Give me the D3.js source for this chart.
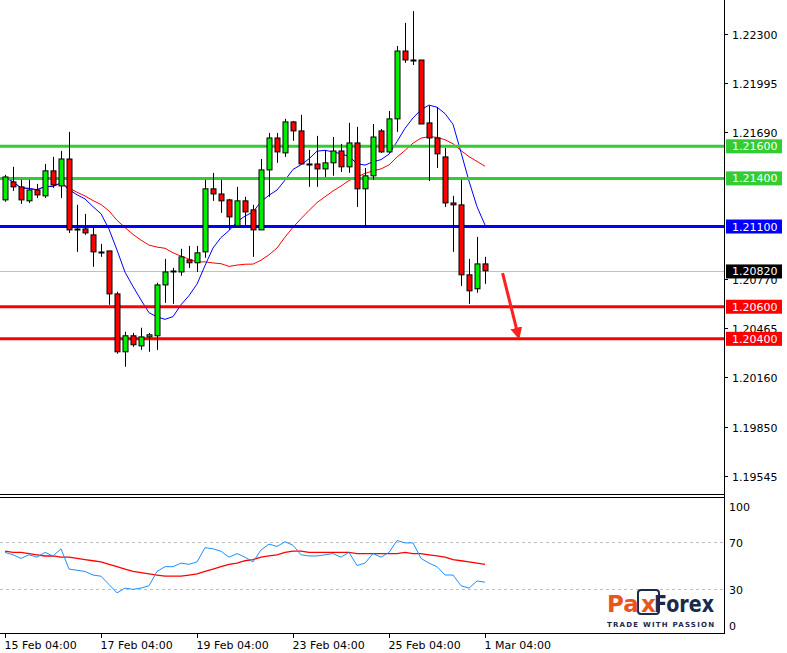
<!DOCTYPE html>
<html><head><meta charset="utf-8">
<script src="https://cdn.jsdelivr.net/npm/d3@7"></script>
<style>body{margin:0;background:#fff}svg{display:block}text{font-family:"DejaVu Sans",sans-serif;font-size:11px}</style>
</head><body><svg id="c" width="787" height="653"></svg>
<script>
// OHLC candles (4h)
const candles = [
[1.21266,1.21422,1.21254,1.21409],[1.21378,1.21472,1.21322,1.21347],[1.21347,1.21391,1.21241,1.21266],[1.21260,1.21391,1.21247,1.21328],
[1.21328,1.21366,1.21278,1.21297],[1.21291,1.21490,1.21278,1.21447],[1.21447,1.21534,1.21341,1.21359],[1.21353,1.21571,1.21278,1.21521],
[1.21521,1.21690,1.21060,1.21079],[1.21085,1.21235,1.20942,1.21085],[1.21085,1.21179,1.21048,1.21060],[1.21048,1.21092,1.20849,1.20942],
[1.20942,1.20992,1.20911,1.20942],[1.20948,1.20948,1.20612,1.20680],[1.20680,1.20693,1.20307,1.20319],[1.20319,1.20444,1.20226,1.20419],
[1.20419,1.20437,1.20350,1.20363],[1.20356,1.20469,1.20331,1.20412],[1.20412,1.20437,1.20319,1.20425],[1.20419,1.20749,1.20331,1.20736],
[1.20736,1.20898,1.20624,1.20817],[1.20824,1.20842,1.20618,1.20817],[1.20817,1.20961,1.20793,1.20911],[1.20892,1.20979,1.20842,1.20874],
[1.20874,1.20979,1.20817,1.20936],[1.20942,1.21391,1.20905,1.21335],[1.21335,1.21434,1.21260,1.21303],[1.21303,1.21391,1.21185,1.21260],
[1.21266,1.21272,1.21079,1.21160],[1.21104,1.21347,1.21104,1.21260],[1.21260,1.21285,1.21110,1.21191],[1.21204,1.21235,1.20911,1.21079],
[1.21079,1.21521,1.21079,1.21453],[1.21453,1.21683,1.21285,1.21652],[1.21652,1.21683,1.21497,1.21565],[1.21559,1.21771,1.21534,1.21752],
[1.21752,1.21758,1.21634,1.21696],[1.21696,1.21796,1.21490,1.21490],[1.21490,1.21577,1.21347,1.21490],[1.21490,1.21665,1.21347,1.21459],
[1.21459,1.21577,1.21409,1.21497],[1.21497,1.21658,1.21416,1.21571],[1.21571,1.21615,1.21440,1.21472],[1.21472,1.21746,1.21434,1.21621],
[1.21621,1.21721,1.21222,1.21335],[1.21335,1.21465,1.21092,1.21416],[1.21416,1.21739,1.21391,1.21658],[1.21696,1.21708,1.21559,1.21565],
[1.21565,1.21820,1.21559,1.21771],[1.21771,1.22225,1.21690,1.22194],[1.22194,1.22369,1.22120,1.22138],[1.22138,1.22443,1.22107,1.22138],
[1.22138,1.22138,1.21739,1.21739],[1.21746,1.21852,1.21384,1.21652],[1.21652,1.21845,1.21465,1.21553],[1.21534,1.21590,1.21222,1.21247],
[1.21247,1.21291,1.20942,1.21235],[1.21235,1.21391,1.20730,1.20799],[1.20799,1.20898,1.20618,1.20699],[1.20712,1.21035,1.20687,1.20867],
[1.20867,1.20911,1.20743,1.20824]];
const oscMain = [61,59,56,59,57,61,58,64,47,46,45,42,41,34,27,31,30,31,33,45,49,49,52,51,53,65,64,62,57,60,57,53,63,68,66,70,67,59,58,58,59,60,57,61,50,52,60,57,61,71,69,69,56,52,49,42,42,33,31,37,36];
const oscSignal = [62,61,61,60,59,58,58,57,57,56,55,54,53,51,49,47,45,44,43,42,41,41,41,42,43,45,47,49,51,52,54,55,57,58,59,61,62,62,61,61,61,61,61,61,60,60,60,60,60,60,61,60,60,59,58,57,55,54,53,52,51];
const priceTicks = [1.22300,1.21995,1.21690,1.20770,1.20465,1.20160,1.19850,1.19545];
const oscTicks = [100,70,30,0];
const xLabels = [[0,"15 Feb 04:00"],[12,"17 Feb 04:00"],[24,"19 Feb 04:00"],[36,"23 Feb 04:00"],[48,"25 Feb 04:00"],[60,"1 Mar 04:00"]];
const levels = [[1.21600,"#33cc33"],[1.21400,"#33cc33"],[1.21100,"#0000ff"],[1.20600,"#ff0000"],[1.20400,"#ff0000"]];
const currentPrice = 1.20820;
const fastPeriod = 8, slowPeriod = 21;

const svg = d3.select("#c");
const AX = 724;
const x = d3.scaleLinear().domain([0,1]).range([5,13]);
const y = d3.scaleLinear().domain([1.19545,1.22300]).range([476,34]);
const yo = d3.scaleLinear().domain([0,100]).range([625,506]);

function sma(p){return candles.map((c,i)=>{const s=candles.slice(Math.max(0,i-p+1),i+1);return d3.mean(s,d=>d[3]);});}

svg.append("line").attr("x1",AX+0.5).attr("x2",AX+0.5).attr("y1",0).attr("y2",634).attr("stroke","#000");
svg.append("line").attr("x1",0).attr("x2",AX).attr("y1",494.5).attr("y2",494.5).attr("stroke","#000");
svg.append("line").attr("x1",0).attr("x2",AX).attr("y1",497.5).attr("y2",497.5).attr("stroke","#000");
svg.append("line").attr("x1",0).attr("x2",AX).attr("y1",633.5).attr("y2",633.5).attr("stroke","#000");

svg.append("line").attr("x1",0).attr("x2",AX).attr("y1",Math.round(y(currentPrice))+0.5).attr("y2",Math.round(y(currentPrice))+0.5).attr("stroke","#c0c0c0");

const pa = svg.append("g");
priceTicks.forEach(t=>{const yy=Math.round(y(t))+0.5;
 pa.append("line").attr("x1",AX).attr("x2",AX+4).attr("y1",yy).attr("y2",yy).attr("stroke","#000");
 pa.append("text").attr("x",AX+8).attr("y",yy+4).text(t.toFixed(5));});

const line = d3.line().x((d,i)=>x(i)).y(d=>y(d));
svg.append("path").attr("d",line(sma(slowPeriod))).attr("fill","none").attr("stroke","#ff0000").attr("stroke-width",1);
svg.append("path").attr("d",line(sma(fastPeriod))).attr("fill","none").attr("stroke","#0000ff").attr("stroke-width",1);

levels.forEach(([v,c])=>{const yy=y(v);
 svg.append("line").attr("x1",0).attr("x2",AX).attr("y1",yy).attr("y2",yy).attr("stroke",c).attr("stroke-width",3);
});

const cg = svg.append("g");
candles.forEach((c,i)=>{const [o,h,l,cl]=c; const xx=Math.round(x(i))+0.5;
 cg.append("line").attr("x1",xx).attr("x2",xx).attr("y1",y(h)).attr("y2",y(l)).attr("stroke","#000");
 const top=Math.min(y(o),y(cl)), bh=Math.abs(y(o)-y(cl));
 if(bh<1.5){cg.append("line").attr("x1",xx-3).attr("x2",xx+3).attr("y1",Math.round(top)+0.5).attr("y2",Math.round(top)+0.5).attr("stroke","#000").attr("stroke-width",2);}
 else cg.append("rect").attr("x",xx-2.5).attr("y",top).attr("width",5).attr("height",bh).attr("fill",cl>=o?"#00ee00":"#ff0000").attr("stroke","#000");
});

const ax1=x(62.2), ay1=y(1.20810), ax2=x(64.2), ay2=y(1.20410);
svg.append("defs").append("marker").attr("id","ah").attr("viewBox","0 0 10 10").attr("refX",8).attr("refY",5).attr("markerWidth",4).attr("markerHeight",4).attr("orient","auto")
 .append("path").attr("d","M0,0L10,5L0,10Z").attr("fill","#ff2020");
svg.append("line").attr("x1",ax1).attr("y1",ay1).attr("x2",ax2).attr("y2",ay2).attr("stroke","#ff2020").attr("stroke-width",3).attr("marker-end","url(#ah)");

function label(v,bg,fg){const yy=y(v);
 svg.append("rect").attr("x",AX+2).attr("y",yy-7).attr("width",56).attr("height",14).attr("fill",bg);
 svg.append("text").attr("x",AX+8).attr("y",yy+4).attr("fill",fg).text(v.toFixed(5));}
levels.forEach(([v,c])=>label(v,c,"#fff"));
label(currentPrice,"#000","#fff");

[70,30].forEach(v=>svg.append("line").attr("x1",0).attr("x2",AX).attr("y1",Math.round(yo(v))+0.5).attr("y2",Math.round(yo(v))+0.5).attr("stroke","#c0c0c0").attr("stroke-dasharray","3,3"));
const ol = d3.line().x((d,i)=>x(i)).y(d=>yo(d));
svg.append("path").attr("d",ol(oscSignal)).attr("fill","none").attr("stroke","#ff0000").attr("stroke-width",1.3);
svg.append("path").attr("d",ol(oscMain)).attr("fill","none").attr("stroke","#1e90ff").attr("stroke-width",1);
oscTicks.forEach(t=>{const yy=Math.round(yo(t))+0.5;
 svg.append("text").attr("x",AX+5).attr("y",yy+4).text(t);});

xLabels.forEach(([i,t])=>{const xx=Math.round(x(i))+0.5;
 svg.append("line").attr("x1",xx).attr("x2",xx).attr("y1",634).attr("y2",638).attr("stroke","#000");
 svg.append("text").attr("x",xx-1).attr("y",649).text(t);});

// logo
const lg = svg.append("g");
lg.append("rect").attr("x",638).attr("y",590).attr("width",21).attr("height",24).attr("rx",3).attr("fill","none").attr("stroke","#1b2a4a").attr("stroke-width",2);
lg.append("text").attr("x",607).attr("y",612).style("font-size","23px").attr("font-weight","bold").attr("fill","#e8561e").text("Pa");
lg.append("text").attr("x",641).attr("y",612).style("font-size","23px").attr("font-weight","bold").attr("fill","#e8561e").text("x");
lg.append("text").attr("x",654).attr("y",612).style("font-size","23px").attr("font-weight","bold").attr("textLength",60).attr("lengthAdjust","spacingAndGlyphs").attr("fill","#1b2a4a").text("Forex");
lg.append("text").attr("x",607).attr("y",627).style("font-size","7px").attr("font-weight","bold").attr("textLength",107).attr("lengthAdjust","spacing").attr("fill","#1b2a4a").text("TRADE WITH PASSION");
</script></body></html>
